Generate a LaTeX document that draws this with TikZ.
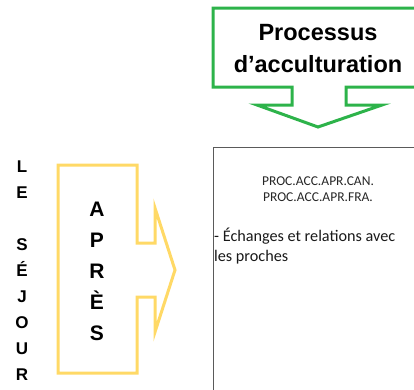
\documentclass[tikz,border=0pt]{standalone}
\usepackage{fontspec}
\setmainfont{Liberation Sans}
\newfontfamily\calib{Carlito}
\definecolor{arrgreen}{HTML}{2DB34A}
\definecolor{arryellow}{HTML}{FFD966}
\definecolor{boxgray}{HTML}{5A5A5A}
\begin{document}
\begin{tikzpicture}[x=1pt,y=-1pt,
  greenarrow/.style={draw=arrgreen,line width=3pt,line join=miter},
  yellowarrow/.style={draw=arryellow,line width=3pt,line join=miter},
  bigtext/.style={font=\fontsize{23.5}{32}\selectfont\bfseries,align=center,inner sep=0pt},
  vletter/.style={font=\fontsize{17}{20}\selectfont\bfseries,anchor=base,inner sep=0pt},
  aletter/.style={font=\fontsize{21}{24}\selectfont\bfseries,anchor=base,inner sep=0pt},
  smalltext/.style={font=\calib\fontsize{13.5}{16}\selectfont,align=center,inner sep=0pt,text=black!85},
  bodytext/.style={font=\calib\fontsize{16.2}{20}\selectfont,align=left,inner sep=0pt,text=black!90}]
\useasboundingbox (0,0) rectangle (414,389);
\clip (0,0) rectangle (414,389);
% green down arrow callout
\draw[greenarrow] (213,8) -- (425,8) -- (425,87) -- (346,87) -- (346,105) -- (382,105)
  -- (318,127) -- (257,105) -- (292,105) -- (292,87) -- (213,87) -- cycle;
\node[bigtext] (proc) at (318,49) {Processus\\d’acculturation};
% yellow right arrow callout
\draw[yellowarrow] (58,165) -- (137,165) -- (137,243) -- (155,243) -- (155,208)
  -- (175,270) -- (155,332) -- (155,297) -- (137,297) -- (137,373) -- (58,373) -- cycle;
\foreach \l/\y [count=\i] in {A/216,P/247,R/278,È/309,S/340}
  \node[aletter] (ap\i) at (97,\y) {\l};
\foreach \l/\y [count=\i] in {L/172,E/198,S/250,É/276,J/302,O/328,U/354,R/380}
  \node[vletter] (sj\i) at (22,\y) {\l};
% content box
\draw[boxgray,line width=1pt] (213,147) rectangle (425,400);
\node[smalltext] (codes) at (318,189) {PROC.ACC.APR.CAN.\\PROC.ACC.APR.FRA.};
\node[bodytext,anchor=north west] (body) at (214,228) {- Échanges et relations avec\\les proches};
\end{tikzpicture}
\end{document}
